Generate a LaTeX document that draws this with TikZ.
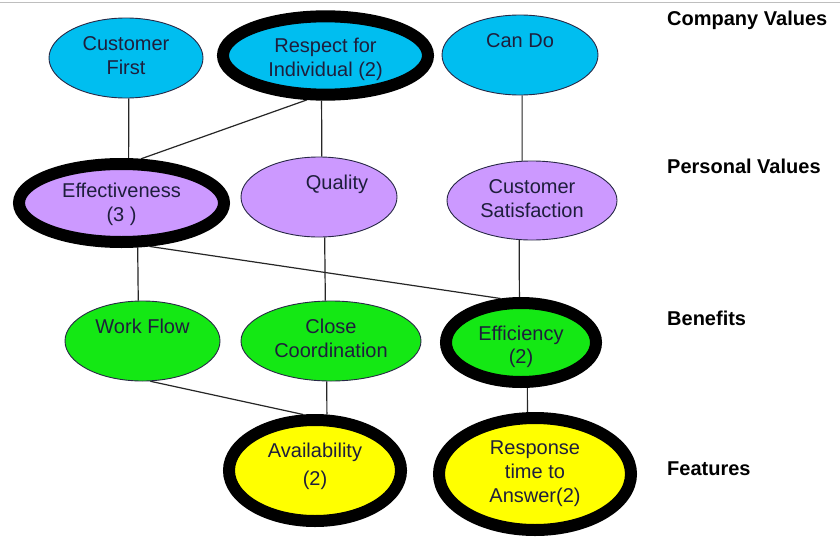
\documentclass[tikz,border=0pt]{standalone}
\usepackage{fontspec}
\setmainfont{Liberation Sans}
\usetikzlibrary{shapes.geometric,backgrounds}

\definecolor{ink}{RGB}{30,30,60}
\definecolor{rim}{RGB}{40,40,70}
\definecolor{cvfill}{RGB}{0,190,240}
\definecolor{pvfill}{RGB}{204,153,255}
\definecolor{bnfill}{RGB}{20,232,20}
\definecolor{ftfill}{RGB}{255,255,0}
\definecolor{frameline}{RGB}{190,190,190}

\newcommand\nodetextfont{\fontsize{20}{24}\selectfont}
\newcommand\tiertextfont{\fontsize{20}{24}\selectfont\bfseries}

\tikzset{
  val/.style={ellipse, inner sep=0pt, align=center, font=\nodetextfont,
    text=ink, draw=rim, line width=0.9pt},
  heavy/.style={draw=black, line width=12pt},
  company/.style={val, fill=cvfill},
  personal/.style={val, fill=pvfill},
  benefit/.style={val, fill=bnfill},
  feature/.style={val, fill=ftfill},
  tier/.style={anchor=base west, font=\tiertextfont, text=black, inner sep=0pt},
  link/.style={line width=1.2pt, draw=black!85},
}

\begin{document}
\begin{tikzpicture}[x=1pt, y=-1pt]
  \useasboundingbox (0,0) rectangle (840,538);

  % company values
  \node[company, minimum width=154pt, minimum height=80pt] (cf) at (126,58)
    {\strut Customer\\\strut First};
  \node[company, heavy, minimum width=205pt, minimum height=77pt] (ri) at (325.5,55.5)
    {\rule{0pt}{24.2pt}Respect for\\\strut Individual (2)};
  \node[company, minimum width=156pt, minimum height=80pt] (cd) at (520,55)
    {\strut Can Do\\\strut};

  % personal values
  \node[personal, heavy, minimum width=205pt, minimum height=78pt] (ef) at (121.5,203)
    {\rule{0pt}{21pt}Effectiveness\\\strut(3 )};
  \node[personal, minimum width=156pt, minimum height=80pt] (qu) at (319,197)
    {\strut\hspace*{36pt}Quality\\\strut};
  \node[personal, minimum width=170pt, minimum height=79pt] (cs) at (532,200.5)
    {\strut Customer\\\strut Satisfaction};

  % benefits
  \node[benefit, minimum width=155pt, minimum height=80pt] (wf) at (142.5,341)
    {\strut Work Flow\\\strut};
  \node[benefit, minimum width=180pt, minimum height=80pt] (cc) at (331,341)
    {\strut Close\\\strut Coordination};
  \node[benefit, heavy, minimum width=150pt, minimum height=79pt] (ey) at (521,342.5)
    {\rule{0pt}{25.2pt}Efficiency\\[-1pt]\strut(2)};

  % features
  \node[feature, heavy, minimum width=172pt, minimum height=101pt] (av) at (315,470.5)
    {\strut Availability\\[3.5pt]\rule[-15pt]{0pt}{16.8pt}(2)};
  \node[feature, heavy, minimum width=192pt, minimum height=112pt] (rt) at (535,474)
    {\strut Response\\\strut time to\\\strut Answer(2)};

  % tier captions
  \node[tier] (tcv) at (667,25)  {Company Values};
  \node[tier] (tpv) at (667,173) {Personal Values};
  \node[tier] (tbn) at (667,325) {Benefits};
  \node[tier] (tft) at (667,475) {Features};

  % frame line along the top edge
  \draw[frameline, line width=1pt] (0,2.5) -- (840,2.5);

  \begin{scope}[on background layer]
    \fill[white] (0,0) rectangle (840,538);
    \draw[link] (cf.274) -- (ef.81);
    \draw[link] (ri.247) -- (ef.66);
    \draw[link] (ri.265) -- (qu.86);
    \draw[link] (cd.273) -- (cs.104);
    \draw[link] (ef.290) -- (wf.96);
    \draw[link] (ef.303) -- (ey.115);
    \draw[link] (qu.278) -- (cc.98);
    \draw[link] (cs.252) -- (ey.92);
    \draw[link] (wf.281) -- (av.102);
    \draw[link] (cc.264) -- (av.78);
    \draw[link] (ey.278) -- (rt.97);
  \end{scope}
\end{tikzpicture}
\end{document}
